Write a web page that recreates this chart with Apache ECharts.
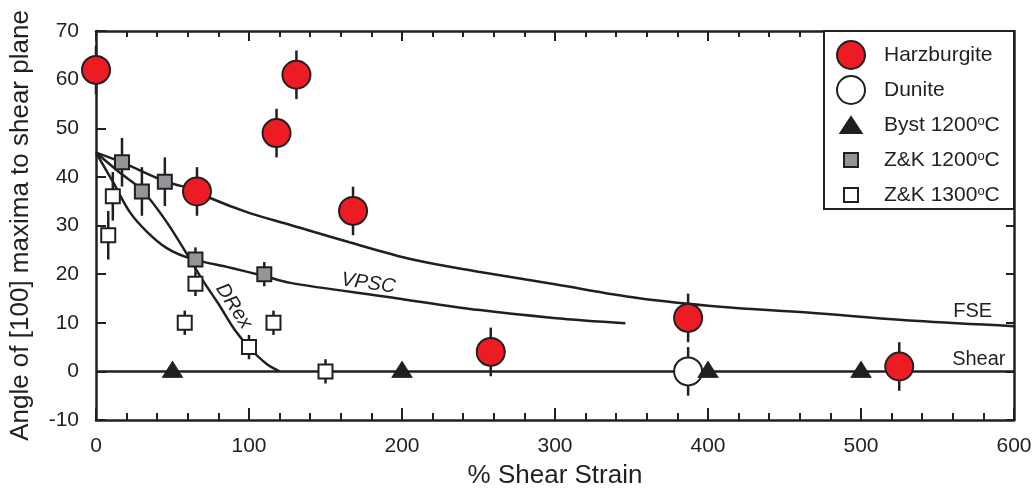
<!DOCTYPE html>
<html>
<head>
<meta charset="utf-8">
<title>Angle of [100] maxima vs shear strain</title>
<script src="https://cdn.jsdelivr.net/npm/echarts@6/dist/echarts.min.js"></script>
<style>
  html, body { margin: 0; padding: 0; background: #fff; }
  #chart { width: 1036px; height: 494px; }
</style>
</head>
<body>
<div id="chart"></div>
<script>
// measured points [strain %, angle] and their half error bars
const harzburgite = [[0, 62], [66, 37], [118, 49], [131, 61], [168, 33], [258, 4], [387, 11], [525, 1]];
const harzburgiteErr = [5, 5, 5, 5, 5, 5, 5, 5];
const dunite = [[387, 0]];
const duniteErr = [5];
const byst1200 = [[50, 0], [200, 0], [400, 0], [500, 0]];
const zk1200 = [[17, 43], [30, 37], [45, 39], [65, 23], [110, 20]];
const zk1200Err = [5, 5, 5, 2.5, 2.5];
const zk1300 = [[8, 28], [11, 36], [58, 10], [65, 18], [100, 5], [116, 10], [150, 0]];
const zk1300Err = [5, 5, 2.5, 2.5, 2.5, 2.5, 2.5];

// model curves
const fseCurve = [[0, 45], [17, 43], [46, 39], [66, 37.2], [75, 35.6], [100, 32.6], [125, 30.3], [164, 26.7],
  [207, 23], [250, 20.5], [300, 17.9], [354, 15.1], [408, 13.3], [465, 12.1], [535, 10.4], [600, 9.3]];
const vpscCurve = [[0, 45], [11, 39], [22, 32.8], [33, 28.8], [46, 25.4], [61, 23.3], [88, 21.3], [110, 19.6],
  [127, 18.2], [186, 15.5], [251, 12.6], [299, 11], [346, 9.9]];
const drexCurve = [[0, 45], [15, 41], [30, 37.3], [46, 30.8], [61, 23.3], [70, 18.6], [80, 13.9], [91, 8.4],
  [101, 4.6], [112, 1.4], [120, 0]];
const shearLine = [[0, 0], [600, 0]];

const xTicks = [0, 100, 200, 300, 400, 500, 600];
const yTicks = [-10, 0, 10, 20, 30, 40, 50, 60, 70];

// curve annotations: [x, y, text, rotation in degrees, font style]
const curveLabels = [
  [178, 18.1, 'VPSC', -8, 'italic'],
  [90, 13.4, 'DRex', -57, 'italic'],
  [573, 12.3, 'FSE', 0, 'normal'],
  [577, 2.5, 'Shear', 0, 'normal']
];

const ink = '#231f20';
const font = '"Liberation Sans", Arial, Helvetica, sans-serif';

const chart = echarts.init(document.getElementById('chart'));

// [x, low, high] for each error bar
const withErr = (pts, errs) => pts.map((p, i) => [p[0], p[1] - errs[i], p[1] + errs[i]]);
const errData = [].concat(
  withErr(harzburgite, harzburgiteErr),
  withErr(dunite, duniteErr),
  withErr(zk1200, zk1200Err),
  withErr(zk1300, zk1300Err)
);

const curve = (name, data) => ({
  name: name,
  type: 'line',
  data: data,
  smooth: 0.35,
  showSymbol: false,
  silent: true,
  z: 3,
  lineStyle: { color: ink, width: 2.5 }
});

const squareIcon = 'path://M0,0M28,28M7,7L21,7L21,21L7,21Z';
const triIcon = 'path://M0,0M28,28M3.5,22L14,6L24.5,22Z';

const axisBase = {
  type: 'value',
  axisLine: { onZero: false, lineStyle: { color: ink, width: 2.5 } },
  splitLine: { show: false }
};

const option = {
  animation: false,
  backgroundColor: '#fff',
  textStyle: { fontFamily: font, color: ink },
  grid: { left: 96, right: 22, top: 31, bottom: 70 },
  xAxis: [
    Object.assign({}, axisBase, {
      min: xTicks[0],
      max: xTicks[xTicks.length - 1],
      interval: 100,
      name: '% Shear Strain',
      nameLocation: 'middle',
      nameGap: 43,
      nameTextStyle: { fontSize: 26, color: ink, fontFamily: font },
      axisTick: { inside: true, length: 12, lineStyle: { color: ink, width: 2 } },
      minorTick: { show: true, splitNumber: 5, length: 7, lineStyle: { color: ink, width: 2 } },
      axisLabel: { fontSize: 21, color: ink, margin: 16, fontFamily: font }
    }),
    Object.assign({}, axisBase, {
      position: 'top',
      min: xTicks[0],
      max: xTicks[xTicks.length - 1],
      interval: 100,
      axisTick: { inside: true, length: 10, lineStyle: { color: ink, width: 2 } },
      minorTick: { show: true, splitNumber: 5, length: 6, lineStyle: { color: ink, width: 2 } },
      axisLabel: { show: false }
    })
  ],
  yAxis: [
    Object.assign({}, axisBase, {
      min: yTicks[0],
      max: yTicks[yTicks.length - 1],
      interval: 10,
      name: 'Angle of [100] maxima to shear plane',
      nameLocation: 'middle',
      nameGap: 62,
      nameTextStyle: { fontSize: 26, color: ink, fontFamily: font },
      axisTick: { inside: true, length: 10, lineStyle: { color: ink, width: 2 } },
      axisLabel: { fontSize: 21, color: ink, margin: 17, fontFamily: font }
    }),
    Object.assign({}, axisBase, {
      position: 'right',
      min: yTicks[0],
      max: yTicks[yTicks.length - 1],
      interval: 10,
      axisTick: { inside: true, length: 8, lineStyle: { color: ink, width: 2 } },
      axisLabel: { show: false }
    })
  ],
  legend: {
    orient: 'vertical',
    left: 836,
    top: 40,
    padding: 0,
    itemWidth: 28,
    itemHeight: 28,
    itemGap: 5,
    selectedMode: false,
    data: [
      { name: 'Harzburgite', icon: 'circle' },
      { name: 'Dunite', icon: 'circle' },
      { name: 'Byst 1200°C', icon: triIcon },
      { name: 'Z&K 1200°C', icon: squareIcon },
      { name: 'Z&K 1300°C', icon: squareIcon }
    ],
    formatter: (name) => name.replace('°C', '{sup|o}C'),
    textStyle: {
      fontSize: 21,
      color: ink,
      fontFamily: font,
      padding: [0, 0, 0, 14],
      rich: {
        sup: { fontSize: 13, color: ink, fontFamily: font, verticalAlign: 'top', padding: [0, 0, 6, 0] }
      }
    }
  },
  graphic: [
    {
      type: 'rect',
      shape: { x: 824, y: 31, width: 190, height: 178 },
      style: { fill: '#fff', stroke: ink, lineWidth: 2 },
      z: 1
    }
  ],
  series: [
    curve('FSE', fseCurve),
    curve('VPSC', vpscCurve),
    curve('DRex', drexCurve),
    curve('Shear', shearLine),
    {
      name: 'errors',
      type: 'custom',
      data: errData,
      encode: { x: 0, y: [1, 2] },
      silent: true,
      z: 4,
      renderItem: (params, api) => {
        const lo = api.coord([api.value(0), api.value(1)]);
        const hi = api.coord([api.value(0), api.value(2)]);
        return {
          type: 'line',
          shape: { x1: lo[0], y1: lo[1], x2: hi[0], y2: hi[1] },
          style: { stroke: ink, lineWidth: 2.5 }
        };
      }
    },
    {
      name: 'Harzburgite',
      type: 'scatter',
      data: harzburgite,
      symbol: 'circle',
      symbolSize: 28,
      z: 5,
      itemStyle: { color: '#ed1c24', borderColor: ink, borderWidth: 2, opacity: 1 }
    },
    {
      name: 'Dunite',
      type: 'scatter',
      data: dunite,
      symbol: 'circle',
      symbolSize: 28,
      z: 5,
      itemStyle: { color: '#fff', borderColor: ink, borderWidth: 2, opacity: 1 }
    },
    {
      name: 'Byst 1200°C',
      type: 'scatter',
      data: byst1200,
      symbol: 'triangle',
      symbolSize: [20, 16],
      symbolOffset: [0, -2],
      z: 5,
      itemStyle: { color: ink, borderColor: ink, borderWidth: 1, opacity: 1 }
    },
    {
      name: 'Z&K 1200°C',
      type: 'scatter',
      data: zk1200,
      symbol: 'rect',
      symbolSize: 14,
      z: 5,
      itemStyle: { color: '#939598', borderColor: ink, borderWidth: 2, opacity: 1 }
    },
    {
      name: 'Z&K 1300°C',
      type: 'scatter',
      data: zk1300,
      symbol: 'rect',
      symbolSize: 14,
      z: 5,
      itemStyle: { color: '#fff', borderColor: ink, borderWidth: 2, opacity: 1 }
    },
    {
      name: 'curve labels',
      type: 'custom',
      data: curveLabels,
      encode: { x: 0, y: 1 },
      silent: true,
      z: 6,
      renderItem: (params, api) => {
        const item = curveLabels[params.dataIndex];
        const p = api.coord([item[0], item[1]]);
        return {
          type: 'text',
          x: p[0],
          y: p[1],
          rotation: item[3] * Math.PI / 180,
          style: {
            text: item[2],
            fill: ink,
            font: item[4] + ' 20px ' + font,
            align: 'center',
            verticalAlign: 'middle'
          }
        };
      }
    }
  ]
};

chart.setOption(option);
</script>
</body>
</html>
